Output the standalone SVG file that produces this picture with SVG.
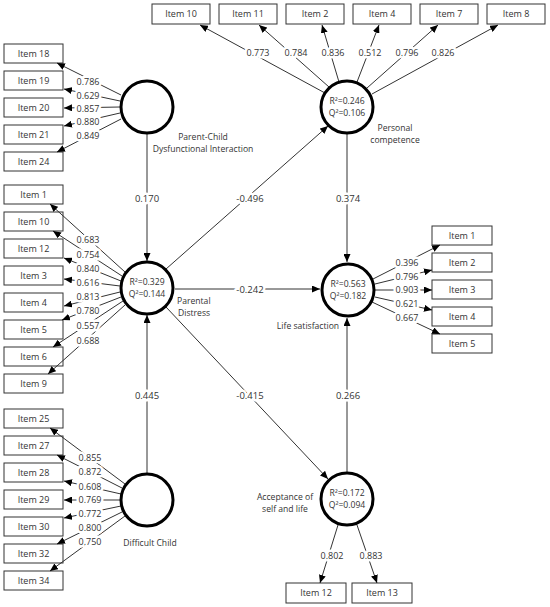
<svg xmlns="http://www.w3.org/2000/svg" width="550" height="607" viewBox="0 0 550 607">
<style>
text{font-family:"Open Sans","Noto Sans","DejaVu Sans",sans-serif;font-size:9px;fill:#333}
.box rect{fill:#fff;stroke:#333;stroke-width:1}
.box text,.lbl,.in text,.nm{text-anchor:middle}
.lv circle{fill:#fff;stroke:#000;stroke-width:3}
.lv text{font-size:8.6px}
.c line{stroke:#333;stroke-width:1;marker-end:url(#ah)}
.lbl{paint-order:stroke;stroke:#fff;stroke-width:5px;stroke-linejoin:round}
.st{font-size:9.5px}
</style>
<defs>
<marker id="ah" markerUnits="userSpaceOnUse" markerWidth="8" markerHeight="7" refX="8" refY="3.5" orient="auto"><path d="M0,0 L8,3.5 L0,7 z" fill="#000"/></marker>
</defs>
<rect width="550" height="607" fill="#fff"/>

<!-- indicator boxes -->
<g id="pcdi-items" class="box">
<rect x="4" y="44" width="59" height="19"/><text x="33.5" y="56.5">Item 18</text>
<rect x="4" y="71" width="59" height="19"/><text x="33.5" y="83.5">Item 19</text>
<rect x="4" y="98" width="59" height="19"/><text x="33.5" y="110.5">Item 20</text>
<rect x="4" y="125" width="59" height="19"/><text x="33.5" y="137.5">Item 21</text>
<rect x="4" y="152" width="59" height="19"/><text x="33.5" y="164.5">Item 24</text>
</g>
<g id="pd-items" class="box">
<rect x="4" y="185" width="59" height="19"/><text x="33.5" y="197.5">Item 1</text>
<rect x="4" y="212" width="59" height="19"/><text x="33.5" y="224.5">Item 10</text>
<rect x="4" y="239" width="59" height="19"/><text x="33.5" y="251.5">Item 12</text>
<rect x="4" y="266" width="59" height="19"/><text x="33.5" y="278.5">Item 3</text>
<rect x="4" y="293" width="59" height="19"/><text x="33.5" y="305.5">Item 4</text>
<rect x="4" y="320" width="59" height="19"/><text x="33.5" y="332.5">Item 5</text>
<rect x="4" y="347" width="59" height="19"/><text x="33.5" y="359.5">Item 6</text>
<rect x="4" y="374" width="59" height="19"/><text x="33.5" y="386.5">Item 9</text>
</g>
<g id="dc-items" class="box">
<rect x="4" y="409" width="59" height="19"/><text x="33.5" y="421.5">Item 25</text>
<rect x="4" y="436" width="59" height="19"/><text x="33.5" y="448.5">Item 27</text>
<rect x="4" y="463" width="59" height="19"/><text x="33.5" y="475.5">Item 28</text>
<rect x="4" y="490" width="59" height="19"/><text x="33.5" y="502.5">Item 29</text>
<rect x="4" y="517" width="59" height="19"/><text x="33.5" y="529.5">Item 30</text>
<rect x="4" y="544" width="59" height="19"/><text x="33.5" y="556.5">Item 32</text>
<rect x="4" y="571" width="59" height="19"/><text x="33.5" y="583.5">Item 34</text>
</g>
<g id="pc-items" class="box">
<rect x="152" y="4" width="58" height="20"/><text x="181" y="17">Item 10</text>
<rect x="219" y="4" width="58" height="20"/><text x="248" y="17">Item 11</text>
<rect x="286" y="4" width="58" height="20"/><text x="315" y="17">Item 2</text>
<rect x="353" y="4" width="58" height="20"/><text x="382" y="17">Item 4</text>
<rect x="420" y="4" width="58" height="20"/><text x="449" y="17">Item 7</text>
<rect x="487" y="4" width="58" height="20"/><text x="516" y="17">Item 8</text>
</g>
<g id="ls-items" class="box">
<rect x="432" y="226" width="60" height="19"/><text x="462" y="238.5">Item 1</text>
<rect x="432" y="253" width="60" height="19"/><text x="462" y="265.5">Item 2</text>
<rect x="432" y="280" width="60" height="19"/><text x="462" y="292.5">Item 3</text>
<rect x="432" y="307" width="60" height="19"/><text x="462" y="319.5">Item 4</text>
<rect x="432" y="334" width="60" height="19"/><text x="462" y="346.5">Item 5</text>
</g>
<g id="acc-items" class="box">
<rect x="286" y="583" width="60" height="20"/><text x="316" y="596">Item 12</text>
<rect x="352" y="583" width="60" height="20"/><text x="382" y="596">Item 13</text>
</g>

<!-- connectors -->
<g id="connectors" class="c">
<line x1="121" y1="95" x2="57" y2="63"/>
<line x1="120" y1="101" x2="64" y2="89"/>
<line x1="120" y1="107" x2="64" y2="108"/>
<line x1="120" y1="113" x2="64" y2="126"/>
<line x1="121" y1="119" x2="57" y2="152"/>

<line x1="125" y1="272" x2="50" y2="204"/>
<line x1="122" y1="276" x2="53" y2="231"/>
<line x1="121" y1="281" x2="64" y2="258"/>
<line x1="120" y1="286" x2="64" y2="279"/>
<line x1="120" y1="292" x2="64" y2="306"/>
<line x1="121" y1="297" x2="62" y2="320"/>
<line x1="123" y1="301" x2="53" y2="347"/>
<line x1="125" y1="305" x2="48" y2="374"/>

<line x1="125" y1="484" x2="50" y2="428"/>
<line x1="122" y1="488" x2="57" y2="455"/>
<line x1="121" y1="494" x2="64" y2="481"/>
<line x1="120" y1="500" x2="64" y2="500"/>
<line x1="121" y1="506" x2="64" y2="518"/>
<line x1="122" y1="512" x2="57" y2="544"/>
<line x1="125" y1="516" x2="50" y2="571"/>

<line x1="325" y1="93" x2="200" y2="25"/>
<line x1="329" y1="87" x2="259" y2="25"/>
<line x1="339" y1="82" x2="322" y2="25"/>
<line x1="357" y1="82" x2="379" y2="25"/>
<line x1="367" y1="88" x2="438" y2="25"/>
<line x1="372" y1="94" x2="498" y2="25"/>

<line x1="373" y1="279" x2="440" y2="245"/>
<line x1="375" y1="284" x2="432" y2="270"/>
<line x1="375" y1="290" x2="432" y2="290"/>
<line x1="375" y1="297" x2="432" y2="310"/>
<line x1="372" y1="302" x2="440" y2="334"/>

<line x1="338" y1="525" x2="320" y2="583"/>
<line x1="357" y1="525" x2="377" y2="583"/>

<line x1="147" y1="134" x2="147" y2="261"/>
<line x1="147" y1="473" x2="147" y2="315"/>
<line x1="166" y1="269" x2="328" y2="126"/>
<line x1="347" y1="134" x2="347" y2="262"/>
<line x1="175" y1="289" x2="320" y2="289"/>
<line x1="166" y1="307" x2="328" y2="479"/>
<line x1="347" y1="472" x2="347" y2="318"/>
</g>

<!-- loading / path labels -->
<g id="labels">
<text class="lbl" x="88" y="85">0.786</text>
<text class="lbl" x="88" y="99">0.629</text>
<text class="lbl" x="88" y="112">0.857</text>
<text class="lbl" x="88" y="125">0.880</text>
<text class="lbl" x="88" y="139">0.849</text>

<text class="lbl" x="88" y="243">0.683</text>
<text class="lbl" x="88" y="258">0.754</text>
<text class="lbl" x="88" y="272">0.840</text>
<text class="lbl" x="88" y="286">0.616</text>
<text class="lbl" x="88" y="300">0.813</text>
<text class="lbl" x="88" y="314">0.780</text>
<text class="lbl" x="88" y="329">0.557</text>
<text class="lbl" x="88" y="344">0.688</text>

<text class="lbl" x="90" y="461">0.855</text>
<text class="lbl" x="90" y="475">0.872</text>
<text class="lbl" x="90" y="490">0.608</text>
<text class="lbl" x="90" y="503">0.769</text>
<text class="lbl" x="90" y="517">0.772</text>
<text class="lbl" x="90" y="531">0.800</text>
<text class="lbl" x="90" y="545">0.750</text>

<text class="lbl" x="258" y="56">0.773</text>
<text class="lbl" x="296" y="56">0.784</text>
<text class="lbl" x="333" y="56">0.836</text>
<text class="lbl" x="370" y="56">0.512</text>
<text class="lbl" x="407" y="56">0.796</text>
<text class="lbl" x="443" y="56">0.826</text>

<text class="lbl" x="407" y="266">0.396</text>
<text class="lbl" x="407" y="280">0.796</text>
<text class="lbl" x="407" y="293">0.903</text>
<text class="lbl" x="407" y="307">0.621</text>
<text class="lbl" x="407" y="321">0.667</text>

<text class="lbl" x="332" y="559">0.802</text>
<text class="lbl" x="371" y="559">0.883</text>

<text class="lbl st" x="147" y="202">0.170</text>
<text class="lbl st" x="147" y="399">0.445</text>
<text class="lbl st" x="250" y="202">-0.496</text>
<text class="lbl st" x="348" y="202">0.374</text>
<text class="lbl st" x="250" y="293">-0.242</text>
<text class="lbl st" x="250" y="399">-0.415</text>
<text class="lbl st" x="348" y="399">0.266</text>
</g>

<!-- latent variables -->
<g id="pcdi" class="lv">
<circle cx="147" cy="107" r="26"/>
<text class="nm" x="203" y="139.5">Parent-Child</text>
<text class="nm" x="203" y="151.5">Dysfunctional Interaction</text>
</g>
<g id="pd" class="lv in">
<circle cx="147" cy="288" r="26"/>
<text x="147" y="284.5">R²=0.329</text>
<text x="147" y="296.5">Q²=0.144</text>
<text x="177" y="303.5" style="text-anchor:start">Parental</text>
<text x="178" y="315.5" style="text-anchor:start">Distress</text>
</g>
<g id="dc" class="lv">
<circle cx="147" cy="500" r="26"/>
<text class="nm" x="150" y="546">Difficult Child</text>
</g>
<g id="pc" class="lv in">
<circle cx="347" cy="107" r="26"/>
<text x="347" y="103.5">R²=0.246</text>
<text x="347" y="115.5">Q²=0.106</text>
<text x="395" y="130.5">Personal</text>
<text x="395" y="142.5">competence</text>
</g>
<g id="ls" class="lv in">
<circle cx="348" cy="290" r="26"/>
<text x="348" y="286.5">R²=0.563</text>
<text x="348" y="298.5">Q²=0.182</text>
<text x="308" y="329">Life satisfaction</text>
</g>
<g id="acc" class="lv in">
<circle cx="347" cy="499" r="26"/>
<text x="347" y="495.5">R²=0.172</text>
<text x="347" y="507.5">Q²=0.094</text>
<text x="285" y="499.5">Acceptance of</text>
<text x="285" y="511.5">self and life</text>
</g>
</svg>
